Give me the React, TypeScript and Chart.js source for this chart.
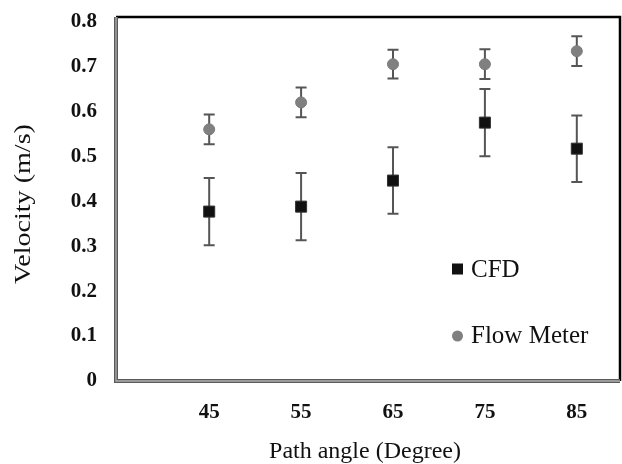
import React, { useEffect, useRef } from "react";
import { Chart, registerables } from "chart.js";

Chart.register(...registerables);

const angles = [45, 55, 65, 75, 85];
const cfdValues = [0.377, 0.388, 0.446, 0.575, 0.517];
const cfdErrors = [0.075, 0.075, 0.074, 0.075, 0.074];
const flowValues = [0.56, 0.62, 0.705, 0.705, 0.734];
const flowErrors = [0.033, 0.033, 0.032, 0.033, 0.033];
const yTickValues = [0, 0.1, 0.2, 0.3, 0.4, 0.5, 0.6, 0.7, 0.8];
const xTickValues = [45, 55, 65, 75, 85];
const seriesNames = ["CFD", "Flow Meter"];
const xTitle = "Path angle (Degree)";
const yTitle = "Velocity (m/s)";

const SERIF = "'Liberation Serif', 'Times New Roman', serif";

const errorBarPlugin = {
  id: "errorBars",
  beforeDatasetsDraw(chart: any) {
    const { ctx } = chart;
    const xs = chart.scales.x;
    const ys = chart.scales.y;
    const errs = [cfdErrors, flowErrors];
    ctx.save();
    ctx.strokeStyle = "#555";
    ctx.lineWidth = 2;
    chart.data.datasets.forEach((ds: any, di: number) => {
      ds.data.forEach((p: any, i: number) => {
        const e = errs[di][i];
        const x = xs.getPixelForValue(p.x);
        const yTop = ys.getPixelForValue(p.y + e);
        const yBot = ys.getPixelForValue(p.y - e);
        ctx.beginPath();
        ctx.moveTo(x, yTop);
        ctx.lineTo(x, yBot);
        ctx.moveTo(x - 5.5, yTop);
        ctx.lineTo(x + 5.5, yTop);
        ctx.moveTo(x - 5.5, yBot);
        ctx.lineTo(x + 5.5, yBot);
        ctx.stroke();
      });
    });
    ctx.restore();
  },
};

const decorPlugin = {
  id: "decor",
  beforeDatasetsDraw(chart: any) {
    const { ctx, chartArea: a } = chart;
    ctx.save();
    // top and right black border
    ctx.strokeStyle = "#000";
    ctx.lineWidth = 2.5;
    ctx.beginPath();
    ctx.moveTo(a.left, a.top);
    ctx.lineTo(a.right, a.top);
    ctx.lineTo(a.right, a.bottom);
    ctx.stroke();
    // left and bottom double gray border
    ctx.strokeStyle = "#5a5a5a";
    ctx.lineWidth = 4;
    ctx.beginPath();
    ctx.moveTo(a.left, a.top);
    ctx.lineTo(a.left, a.bottom);
    ctx.lineTo(a.right, a.bottom);
    ctx.stroke();
    ctx.strokeStyle = "#b0b0b0";
    ctx.lineWidth = 1.3;
    ctx.beginPath();
    ctx.moveTo(a.left, a.top);
    ctx.lineTo(a.left, a.bottom);
    ctx.lineTo(a.right, a.bottom);
    ctx.stroke();
    ctx.restore();
  },
  afterDraw(chart: any) {
    const { ctx } = chart;
    ctx.save();
    ctx.fillStyle = "#111";
    // x title
    ctx.font = `24px ${SERIF}`;
    ctx.textAlign = "center";
    ctx.textBaseline = "alphabetic";
    ctx.fillText(xTitle, 365, 458);
    // y title
    ctx.save();
    ctx.translate(24, 204);
    ctx.rotate(-Math.PI / 2);
    ctx.scale(1.17, 1);
    ctx.textBaseline = "middle";
    ctx.fillText(yTitle, 0, 0);
    ctx.restore();
    // legend
    ctx.font = `25px ${SERIF}`;
    ctx.textAlign = "left";
    ctx.fillStyle = "#111";
    ctx.fillRect(452, 263.5, 11, 11);
    ctx.fillText(seriesNames[0], 471, 277);
    ctx.fillStyle = "#808080";
    ctx.beginPath();
    ctx.arc(457.5, 336, 5.5, 0, Math.PI * 2);
    ctx.fill();
    ctx.fillStyle = "#111";
    ctx.fillText(seriesNames[1], 471, 343);
    ctx.restore();
  },
};

export default function App() {
  const ref = useRef<HTMLCanvasElement>(null);
  useEffect(() => {
    const canvas = ref.current!;
    const chart = new Chart(canvas, {
      type: "scatter",
      data: {
        datasets: [
          {
            label: seriesNames[0],
            data: angles.map((a, i) => ({ x: a, y: cfdValues[i] })),
            pointStyle: "rect",
            pointRadius: 7.8,
            backgroundColor: "#111",
            borderColor: "#333",
            borderWidth: 1,
          },
          {
            label: seriesNames[1],
            data: angles.map((a, i) => ({ x: a, y: flowValues[i] })),
            pointStyle: "circle",
            pointRadius: 5.5,
            backgroundColor: "#808080",
            borderColor: "#7a7a7a",
            borderWidth: 1,
          },
        ],
      },
      options: {
        animation: false,
        responsive: false,
        layout: { autoPadding: false, padding: { top: 17, right: 2, left: 0, bottom: 0 } },
        plugins: { legend: { display: false }, tooltip: { enabled: false } },
        scales: {
          x: {
            type: "linear",
            min: 34.86,
            max: 89.7,
            grid: { display: false, drawTicks: false },
            border: { display: false },
            afterBuildTicks: (s: any) => {
              s.ticks = xTickValues.map((v) => ({ value: v }));
            },
            afterFit: (s: any) => {
              s.height = 83;
              s.paddingLeft = 0;
              s.paddingRight = 0;
            },
            ticks: {
              padding: 19,
              color: "#111",
              font: { family: SERIF, size: 21, weight: "bold" },
              callback: (v: any) => String(v),
            },
          },
          y: {
            type: "linear",
            min: 0,
            max: 0.81,
            grid: { display: false, drawTicks: false },
            border: { display: false },
            afterBuildTicks: (s: any) => {
              s.ticks = yTickValues.map((v) => ({ value: v }));
            },
            afterFit: (s: any) => {
              s.width = 116;
              s.paddingTop = 0;
              s.paddingBottom = 0;
            },
            ticks: {
              padding: 19,
              color: "#111",
              font: { family: SERIF, size: 21, weight: "bold" },
              callback: (v: any) => (v === 0 ? "0" : Number(v).toFixed(1)),
            },
          },
        },
      },
      plugins: [decorPlugin, errorBarPlugin],
    });
    return () => chart.destroy();
  }, []);
  return (
    <div style={{ position: "absolute", left: 0, top: 0, width: 622, height: 464, background: "#fff" }}>
      <canvas ref={ref} width={622} height={464} />
    </div>
  );
}
